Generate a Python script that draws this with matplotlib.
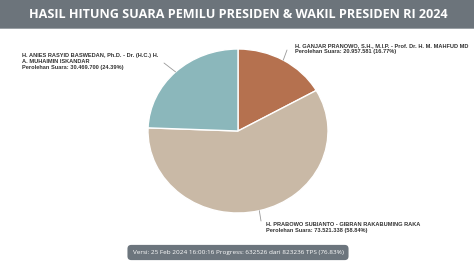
import matplotlib
matplotlib.use("Agg")
import matplotlib.pyplot as plt
import numpy as np
from matplotlib.patches import Rectangle

W, H = 474, 266

# data
candidates = ["H. GANJAR PRANOWO, S.H., M.I.P. - Prof. Dr. H. M. MAHFUD MD",
              "H. PRABOWO SUBIANTO - GIBRAN RAKABUMING RAKA",
              "H. ANIES RASYID BASWEDAN, Ph.D. - Dr. (H.C.) H.\nA. MUHAIMIN ISKANDAR"]
votes_txt = ["20.957.581", "73.521.338", "30.469.700"]
shares = [16.77, 58.84, 24.39]
colors = ["#b5714f", "#c9b9a6", "#8bb7bb"]

title = "HASIL HITUNG SUARA PEMILU PRESIDEN & WAKIL PRESIDEN RI 2024"
footer = "Versi: 25 Feb 2024 16:00:16 Progress: 632526 dari 823236 TPS (76.83%)"


def fx(px):
    return px / W


def fy(py):
    return 1 - py / H


fig = plt.figure(figsize=(W / 100, H / 100), dpi=100)
fig.patch.set_facecolor("white")

# header bar
fig.patches.append(Rectangle((0, fy(28)), 1, 28 / H, transform=fig.transFigure,
                             facecolor="#6c747b", edgecolor="none", zorder=0))
fig.patches.append(Rectangle((0, fy(29)), 1, 1.5 / H, transform=fig.transFigure,
                             facecolor="#9aa0a5", edgecolor="none", zorder=0))
fig.text(fx(238), fy(14.5), title, color="white", fontsize=9.1, fontweight="bold",
         family="Open Sans", ha="center", va="center")

# pie (slightly squashed like the screenshot)
cx, cy, rx, ry = 238, 131, 90, 82
ax = fig.add_axes([fx(cx - rx), fy(cy + ry), 2 * rx / W, 2 * ry / H])
wedges, _ = ax.pie(shares, colors=colors, startangle=90, counterclock=False,
                   wedgeprops=dict(edgecolor="white", linewidth=1.0))
ax.set_xlim(-1, 1)
ax.set_ylim(-1, 1)
ax.set_aspect("auto")

# labels: text anchor (px) for each slice
label_pos = [(295, 47), (266, 226), (22, 57)]
line_end = [(287, 50), (261, 221), (164, 63)]
for w, name, v, s, (tx, ty), (lx, ly) in zip(wedges, candidates, votes_txt, shares,
                                              label_pos, line_end):
    ang = np.deg2rad((w.theta1 + w.theta2) / 2)
    ex, ey = np.cos(ang), np.sin(ang)
    ax.annotate("", xy=(ex, ey), xycoords="data",
                xytext=(fx(lx), fy(ly)), textcoords="figure fraction",
                arrowprops=dict(arrowstyle="-", color="#999999", lw=0.6,
                                shrinkA=0, shrinkB=0))
    txt = f"{name}\nPerolehan Suara: {v} ({s:.2f}%)"
    fig.text(fx(tx), fy(ty - 4), txt, fontsize=4.1, fontweight="bold",
             family="Liberation Sans", color="#333333", ha="left", va="top",
             linespacing=1.3)

# footer box
fig.text(fx(238), fy(252.5), footer, color="white", fontsize=4.6,
         family="Open Sans", ha="center", va="center",
         bbox=dict(boxstyle="round,pad=0.8,rounding_size=0.6",
                   facecolor="#6c757d", edgecolor="none"))

fig.savefig("out.png", dpi=100)
